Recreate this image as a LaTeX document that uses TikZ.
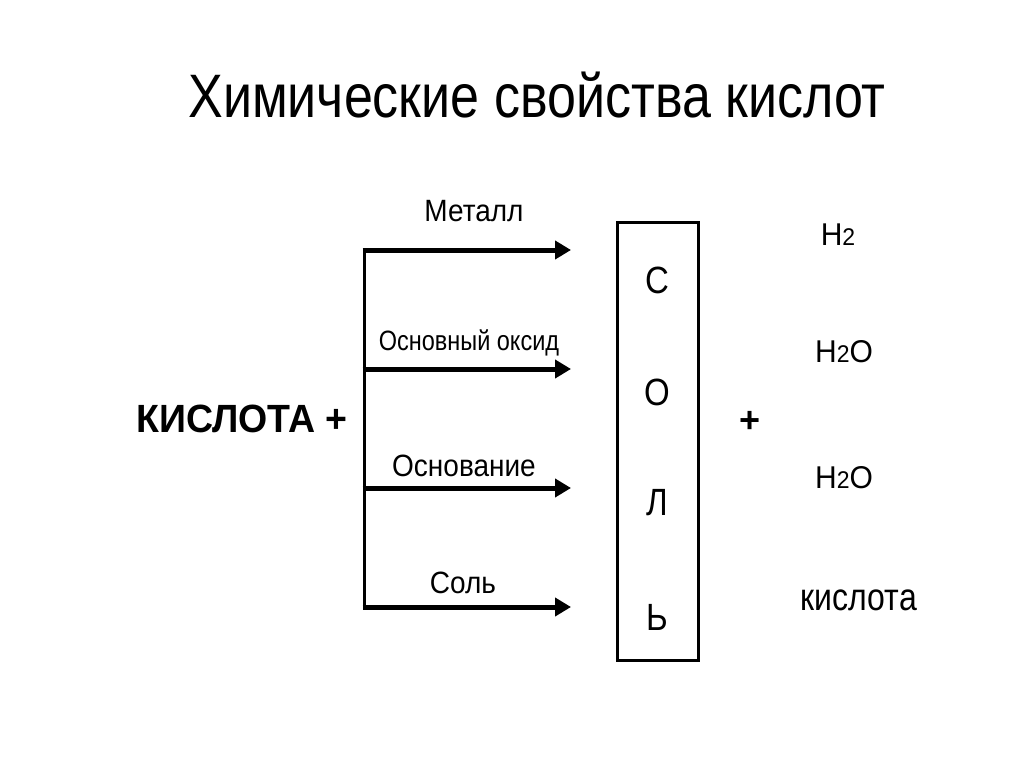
\documentclass[tikz,border=0pt]{standalone}
\usepackage{graphicx}
\usepackage{fontspec}
\setmainfont{Liberation Sans}
\usetikzlibrary{arrows.meta}
\newcommand{\fsz}[1]{\fontsize{#1}{#1}\selectfont}
\newcommand{\vst}[2]{\scalebox{1}[#1]{#2}}
\tikzset{
  lbl/.style={inner sep=0pt, font=\fsz{28}},
  feed/.style={line width=5pt, -{Triangle[length=16pt,width=18pt]}},
  trunk/.style={line width=3pt},
  letter/.style={inner sep=0pt, font=\fsz{33}},
  prod/.style={inner sep=0pt, font=\fsz{30}},
}
\begin{document}
\begin{tikzpicture}[x=1pt,y=-1pt]
\useasboundingbox[fill=white] (0,0) rectangle (1024,767);
\node[inner sep=0pt, font=\fsz{52}] (title) at (537,95) {\vst{1.18}{Химические свойства кислот}};
\node[inner sep=0pt, font=\bfseries\fsz{37.5}] (acid) at (242,419) {\vst{1.05}{КИСЛОТА +}};
% trunk and arrows
\coordinate (t1) at (364,250);
\coordinate (t2) at (364,369);
\coordinate (t3) at (364,488);
\coordinate (t4) at (364,607);
\coordinate (e1) at (571,250);
\coordinate (e2) at (571,369);
\coordinate (e3) at (571,488);
\coordinate (e4) at (571,607);
\draw[trunk] ([yshift=-2.5pt]t1) -- ([yshift=2.5pt]t4);
\draw[feed] ([xshift=-1.5pt]t1) -- (e1);
\draw[feed] ([xshift=-1.5pt]t2) -- (e2);
\draw[feed] ([xshift=-1.5pt]t3) -- (e3);
\draw[feed] ([xshift=-1.5pt]t4) -- (e4);
\node[lbl] (l1) at (474,211) {\vst{1.1}{Металл}};
\node[lbl, font=\fsz{23.5}] (l2) at (469,343) {\vst{1.19}{Основный оксид}};
\node[lbl] (l3) at (464,466) {\vst{1.1}{Основание}};
\node[lbl] (l4) at (463,583) {\vst{1.1}{Соль}};
% salt box
\node[draw, line width=3pt, minimum width=81pt, minimum height=437pt, inner sep=0pt] (box) at (657.5,441.5) {};
\node[letter] (s1) at (657,280) {\vst{1.15}{С}};
\node[letter] (s2) at (657,392) {\vst{1.15}{О}};
\node[letter] (s3) at (657,503) {\vst{1.15}{Л}};
\node[letter] (s4) at (657,617) {\vst{1.15}{Ь}};
\node[inner sep=0pt, font=\bfseries\fsz{36}] (plus) at (750,422) {+};
\node[prod] (p1) at (838,235) {\vst{1.05}{H{\fsz{23}2}}};
\node[prod] (p2) at (844,352) {\vst{1.05}{H{\fsz{23}2}O}};
\node[prod] (p3) at (844,478) {\vst{1.05}{H{\fsz{23}2}O}};
\node[prod, font=\fsz{32}] (p4) at (859,600) {\vst{1.2}{кислота}};
\end{tikzpicture}
\end{document}
